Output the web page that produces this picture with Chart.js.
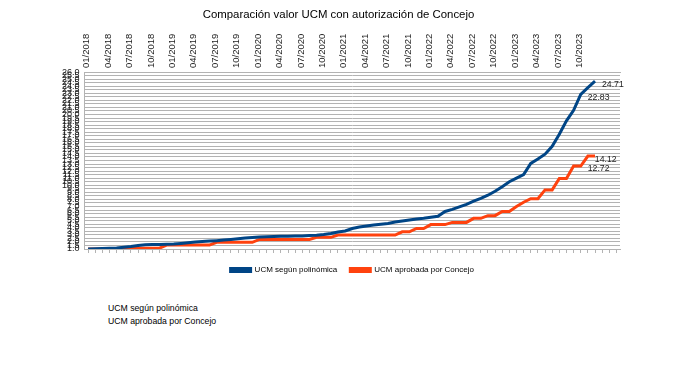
<!DOCTYPE html>
<html>
<head>
<meta charset="utf-8">
<script src="https://cdn.jsdelivr.net/npm/chart.js@4.4.1/dist/chart.umd.min.js"></script>
<style>
html, body { margin: 0; padding: 0; background: #fff; }
#wrap { position: relative; width: 685px; height: 290px; }
.note { position: absolute; left: 108px; top: 302px; font: 8.7px "Liberation Sans", Arial, sans-serif; line-height: 13px; color: #000; }
</style>
</head>
<body>
<div id="wrap"><canvas id="chart"></canvas></div>
<div class="note">UCM según polinómica<br>UCM aprobada por Concejo</div>
<script>
// months shown on the top axis (last three slots are empty padding)
const months = [
    '01/2018','02/2018','03/2018','04/2018','05/2018','06/2018','07/2018','08/2018','09/2018','10/2018','11/2018','12/2018',
    '01/2019','02/2019','03/2019','04/2019','05/2019','06/2019','07/2019','08/2019','09/2019','10/2019','11/2019','12/2019',
    '01/2020','02/2020','03/2020','04/2020','05/2020','06/2020','07/2020','08/2020','09/2020','10/2020','11/2020','12/2020',
    '01/2021','02/2021','03/2021','04/2021','05/2021','06/2021','07/2021','08/2021','09/2021','10/2021','11/2021','12/2021',
    '01/2022','02/2022','03/2022','04/2022','05/2022','06/2022','07/2022','08/2022','09/2022','10/2022','11/2022','12/2022',
    '01/2023','02/2023','03/2023','04/2023','05/2023','06/2023','07/2023','08/2023','09/2023','10/2023','11/2023','12/2023',
    '', '', ''
];

// UCM según polinómica
const ucmPolinomica = [
    1.00, 1.03, 1.06, 1.10, 1.15, 1.25, 1.35, 1.50, 1.60, 1.63, 1.65, 1.68,
    1.70, 1.78, 1.88, 1.98, 2.05, 2.12, 2.18, 2.26, 2.35, 2.45, 2.55, 2.63,
    2.70, 2.74, 2.77, 2.79, 2.80, 2.82, 2.85, 2.90, 2.95, 3.05, 3.20, 3.40,
    3.55, 3.90, 4.10, 4.25, 4.40, 4.50, 4.60, 4.80, 4.95, 5.10, 5.25, 5.35,
    5.50, 5.62, 6.30, 6.60, 6.95, 7.30, 7.75, 8.15, 8.60, 9.15, 9.80, 10.50,
    11.00, 11.50, 13.10, 13.70, 14.40, 15.50, 17.20, 19.10, 20.60, 22.83, 23.80, 24.71
];

// UCM aprobada por Concejo
const ucmAprobada = [
    1.00, 1.00, 1.00, 1.00, 1.00, 1.12, 1.12, 1.12, 1.12, 1.12, 1.12, 1.55,
    1.55, 1.55, 1.55, 1.55, 1.55, 1.55, 1.95, 1.95, 1.95, 1.95, 1.95, 1.95,
    2.35, 2.35, 2.35, 2.35, 2.35, 2.35, 2.35, 2.35, 2.65, 2.65, 2.65, 2.96,
    2.96, 2.96, 2.96, 2.96, 2.96, 2.96, 2.96, 2.96, 3.43, 3.43, 3.90, 3.90,
    4.45, 4.45, 4.45, 4.76, 4.76, 4.76, 5.33, 5.33, 5.71, 5.71, 6.30, 6.30,
    7.00, 7.60, 8.10, 8.10, 9.35, 9.35, 10.95, 10.95, 12.72, 12.72, 14.12, 14.12
];

// which points get a value label
const labelsPolinomica = [69, 71];
const labelsAprobada = [69, 70];

const FONT = '"Liberation Sans", Arial, sans-serif';
const GRID = '#b3b3b3';

// draws the value next to selected points
const pointLabels = {
    id: 'pointLabels',
    afterDatasetsDraw(chart) {
        const ctx = chart.ctx;
        ctx.save();
        ctx.font = '8.7px ' + FONT;
        ctx.fillStyle = '#222';
        ctx.textBaseline = 'middle';
        chart.data.datasets.forEach((ds, di) => {
            const meta = chart.getDatasetMeta(di);
            ds.labelAt.forEach(i => {
                const pt = meta.data[i];
                ctx.fillText(ds.data[i].toFixed(2), pt.x + 7, pt.y + 3);
            });
        });
        ctx.restore();
    }
};

new Chart(document.getElementById('chart'), {
    type: 'line',
    data: {
        labels: months,
        datasets: [{
            label: 'UCM según polinómica',
            data: ucmPolinomica,
            labelAt: labelsPolinomica,
            borderColor: '#004586',
            backgroundColor: '#004586',
            borderWidth: 3,
            pointRadius: 0,
            tension: 0
        }, {
            label: 'UCM aprobada por Concejo',
            data: ucmAprobada,
            labelAt: labelsAprobada,
            borderColor: '#ff420e',
            backgroundColor: '#ff420e',
            borderWidth: 3,
            pointRadius: 0,
            tension: 0
        }]
    },
    options: {
        responsive: true,
        maintainAspectRatio: false,
        animation: false,
        layout: { padding: { left: 57, right: 65, top: 0, bottom: 6 } },
        plugins: {
            title: {
                display: true,
                text: 'Comparación valor UCM con autorización de Concejo',
                color: '#000',
                font: { family: FONT, size: 11.4, weight: 'normal' },
                padding: { top: 8, bottom: 8 }
            },
            legend: {
                position: 'bottom',
                fullSize: false,
                labels: {
                    color: '#000',
                    font: { family: FONT, size: 8 },
                    boxWidth: 20,
                    boxHeight: 3,
                    padding: 13
                }
            },
            tooltip: { enabled: false }
        },
        scales: {
            x: {
                position: 'top',
                offset: true,
                grid: { display: false, drawTicks: false },
                border: { display: true, color: GRID },
                ticks: {
                    autoSkip: false,
                    maxRotation: 90,
                    minRotation: 90,
                    padding: 4,
                    labelOffset: 10,
                    color: '#222',
                    font: { family: FONT, size: 9.5 },
                    callback: (v, i) => (i % 3 === 0 ? months[i] : '')
                }
            },
            x2: {
                position: 'bottom',
                type: 'category',
                offset: true,
                grid: { drawOnChartArea: false, drawTicks: true, tickLength: 4, color: GRID },
                border: { display: true, color: GRID },
                ticks: { display: false }
            },
            y: {
                min: 1,
                max: 26,
                grid: { color: GRID, drawTicks: false },
                border: { display: true, color: GRID },
                ticks: {
                    stepSize: 0.5,
                    autoSkip: false,
                    padding: 5,
                    color: '#222',
                    font: { family: FONT, size: 9 },
                    callback: v => v.toFixed(1)
                }
            }
        }
    },
    plugins: [pointLabels]
});
</script>
</body>
</html>
